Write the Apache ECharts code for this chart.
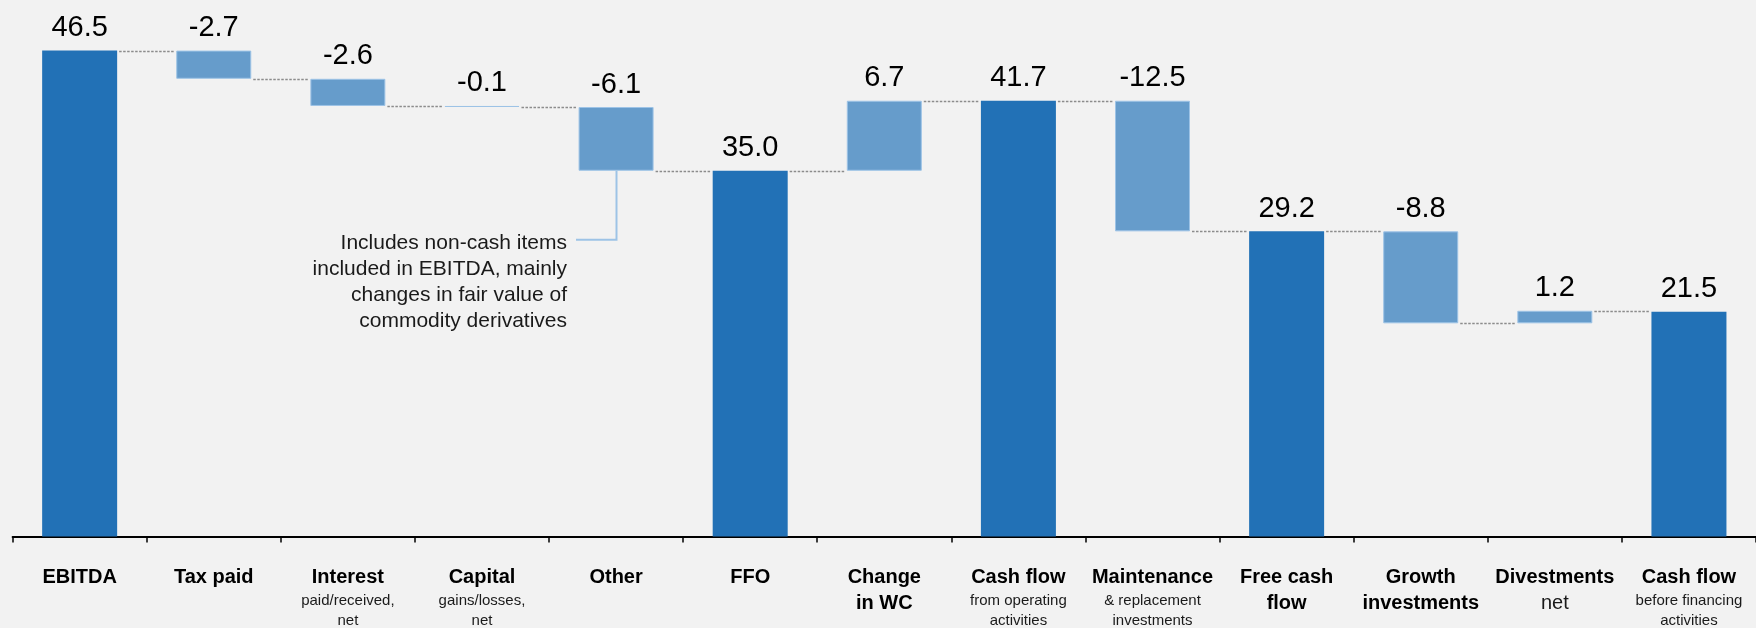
<!DOCTYPE html>
<html>
<head>
<meta charset="utf-8">
<script src="https://cdn.jsdelivr.net/npm/echarts@6/dist/echarts.min.js"></script>
<style>
  html, body { margin: 0; padding: 0; background: #F2F2F2; }
  #chart { width: 1756px; height: 628px; }
</style>
</head>
<body>
<div id="chart"></div>
<script>
// ---- data ----
const categories = ['EBITDA', 'Tax paid', 'Interest', 'Capital', 'Other', 'FFO', 'Change in WC',
  'Cash flow', 'Maintenance', 'Free cash flow', 'Growth investments', 'Divestments', 'Cash flow (before financing)'];
const catMain = [['EBITDA'], ['Tax paid'], ['Interest'], ['Capital'], ['Other'], ['FFO'], ['Change', 'in WC'],
  ['Cash flow'], ['Maintenance'], ['Free cash', 'flow'], ['Growth', 'investments'], ['Divestments'], ['Cash flow']];
const catSub = [[], [], ['paid/received,', 'net'], ['gains/losses,', 'net'], [], [], [],
  ['from operating', 'activities'], ['& replacement', 'investments'], [], [], ['net'], ['before financing', 'activities']];
const values = [46.5, -2.7, -2.6, -0.1, -6.1, 35.0, 6.7, 41.7, -12.5, 29.2, -8.8, 1.2, 21.5];
const isTotal = [true, false, false, false, false, true, false, true, false, true, false, false, true];
const noteText = ['Includes non-cash items', 'included in EBITDA, mainly', 'changes in fair value of', 'commodity derivatives'];
const noteCategory = 4;

// ---- derived waterfall geometry (from values) ----
const bases = [], heights = [], levels = [];
let running = 0;
values.forEach((v, i) => {
  if (isTotal[i]) { bases.push(0); heights.push(v); running = v; }
  else {
    const end = running + v;
    bases.push(Math.min(running, end));
    heights.push(Math.abs(v));
    running = end;
  }
  levels.push(running);
});

const DARK = '#2271B6';
const LIGHT = '#669CCB';
const FONT = '"Liberation Sans", Arial, sans-serif';
const BAR_W = 75;
const bigSub = { 'Divestments': true };

const chart = echarts.init(document.getElementById('chart'));
chart.setOption({
  backgroundColor: '#F2F2F2',
  animation: false,
  textStyle: { fontFamily: FONT },
  grid: { left: 12.6, width: 1750.5, top: 14, height: 524 },
  xAxis: {
    type: 'category',
    data: categories,
    axisLine: { lineStyle: { color: '#000', width: 2 } },
    axisTick: { show: true, length: 6, lineStyle: { color: '#000', width: 1.5 } },
    axisLabel: {
      interval: 0,
      margin: 28,
      hideOverlap: false,
      formatter: function (val, idx) {
        const parts = catMain[idx].map(t => '{b|' + t + '}');
        const st = bigSub[catMain[idx][0]] ? 'n' : 's';
        catSub[idx].forEach(t => parts.push('{' + st + '|' + t + '}'));
        return parts.join('\n');
      },
      rich: {
        b: { fontFamily: FONT, fontWeight: 'bold', fontSize: 20, lineHeight: 26, color: '#000' },
        s: { fontFamily: FONT, fontSize: 15, lineHeight: 20, color: '#1a1a1a' },
        n: { fontFamily: FONT, fontSize: 20, lineHeight: 26, color: '#1a1a1a' }
      }
    }
  },
  yAxis: { type: 'value', min: 0, max: 50, show: false, splitLine: { show: false } },
  series: [
    {
      type: 'bar', stack: 'w', barWidth: BAR_W, silent: true,
      itemStyle: { color: 'transparent' },
      data: bases
    },
    {
      type: 'bar', stack: 'w', barWidth: BAR_W,
      data: heights.map((h, i) => ({
        value: h,
        itemStyle: isTotal[i]
          ? { color: DARK }
          : { color: LIGHT, borderColor: '#9DC3E6', borderWidth: 1 }
      })),
      label: {
        show: true, position: 'top', distance: 8,
        fontFamily: FONT, fontSize: 29, color: '#000',
        formatter: p => values[p.dataIndex].toFixed(1)
      }
    },
    {
      type: 'custom',
      silent: true,
      data: levels.slice(0, -1).map((l, i) => [i, l]),
      encode: { x: 0, y: 1 },
      renderItem: function (params, api) {
        const p = api.coord([api.value(0), api.value(1)]);
        const cw = api.size([1, 0])[0];
        const y = Math.round(p[1]) + 0.5;
        return {
          type: 'line',
          shape: { x1: p[0] + BAR_W / 2 + 2, y1: y, x2: p[0] + cw - BAR_W / 2 - 2, y2: y },
          style: { stroke: '#8C8C8C', lineWidth: 1.5, lineDash: [2.5, 1.5] }
        };
      }
    },
    {
      type: 'custom',
      silent: true,
      data: [[noteCategory, bases[noteCategory]]],
      encode: { x: 0, y: 1 },
      renderItem: function (params, api) {
        const p = api.coord([api.value(0), api.value(1)]);
        const x = Math.round(p[0]) + 0.5;
        return {
          type: 'group',
          children: [
            {
              type: 'polyline',
              shape: { points: [[x, p[1]], [x, p[1] + 69], [x - 40.5, p[1] + 69]] },
              style: { stroke: '#9DC3E6', lineWidth: 2, fill: null }
            },
            {
              type: 'text',
              style: {
                x: x - 49.5, y: p[1] + 59.5,
                text: noteText.join('\n'),
                align: 'right', verticalAlign: 'top',
                font: '21px ' + FONT, lineHeight: 26, fill: '#1a1a1a'
              }
            }
          ]
        };
      }
    }
  ]
});
</script>
</body>
</html>
